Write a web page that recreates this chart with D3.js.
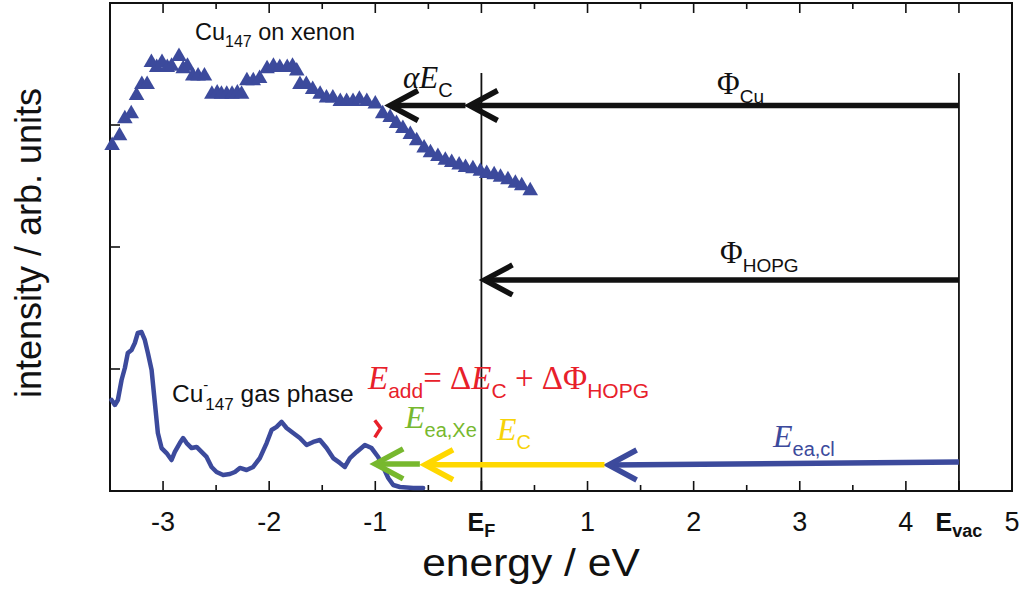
<!DOCTYPE html>
<html>
<head>
<meta charset="utf-8">
<script src="https://cdnjs.cloudflare.com/ajax/libs/d3/7.8.5/d3.min.js"></script>
<style>
  body { margin: 0; background: #fff; }
  svg { display: block; }
</style>
</head>
<body>
<div id="chart"></div>
<script>
// Cu147 on xenon (triangles)
const xenonE = [-3.48,-3.41,-3.36,-3.30,-3.25,-3.20,-3.15,-3.11,-3.06,-3.01,-2.96,-2.92,-2.85,-2.81,-2.77,-2.72,-2.67,-2.61,
  -2.54,-2.49,-2.45,-2.40,-2.35,-2.30,-2.26,-2.21,-2.15,-2.09,-2.02,-1.96,-1.90,-1.83,-1.78,-1.74,-1.71,-1.65,-1.59,-1.52,
  -1.46,-1.40,-1.33,-1.27,-1.21,-1.15,-1.08,-1.00,-0.93,-0.86,-0.80,-0.74,-0.67,-0.61,-0.54,-0.48,-0.41,-0.34,-0.28,-0.21,
  -0.15,-0.08,-0.01,0.05,0.12,0.18,0.25,0.32,0.38,0.46];
const xenonI = [2.84,2.92,3.06,3.10,3.25,3.34,3.34,3.52,3.48,3.52,3.48,3.49,3.57,3.47,3.49,3.41,3.41,3.41,
  3.26,3.27,3.26,3.26,3.26,3.27,3.26,3.37,3.37,3.39,3.47,3.49,3.48,3.48,3.49,3.45,3.34,3.34,3.30,3.26,
  3.23,3.23,3.20,3.20,3.20,3.22,3.20,3.18,3.10,3.07,3.02,2.98,2.93,2.88,2.82,2.78,2.75,2.72,2.70,2.68,
  2.66,2.65,2.63,2.61,2.60,2.58,2.56,2.53,2.51,2.47];

// Cu-147 gas phase (line)
const gasE = [-3.485,-3.454,-3.426,-3.391,-3.360,-3.332,-3.297,-3.266,-3.238,-3.203,-3.172,-3.143,-3.108,-3.077,-3.049,-3.014,
  -2.967,-2.920,-2.889,-2.842,-2.811,-2.778,-2.731,-2.684,-2.637,-2.590,-2.543,-2.496,-2.434,-2.370,-2.323,-2.276,-2.213,
  -2.151,-2.088,-2.024,-1.977,-1.930,-1.883,-1.836,-1.774,-1.711,-1.647,-1.585,-1.522,-1.459,-1.397,-1.334,-1.287,-1.239,
  -1.176,-1.098,-1.035,-0.973,-0.926,-0.878,-0.831,-0.768,-0.643,-0.549];
const gasI = [0.746,0.705,0.746,0.910,1.008,1.131,1.156,1.213,1.295,1.303,1.238,1.131,0.992,0.721,0.475,0.352,
  0.311,0.254,0.320,0.393,0.434,0.393,0.352,0.361,0.320,0.279,0.197,0.156,0.131,0.139,0.156,0.189,0.172,
  0.197,0.270,0.393,0.500,0.525,0.566,0.516,0.475,0.434,0.377,0.402,0.418,0.352,0.270,0.230,0.197,0.270,
  0.320,0.377,0.352,0.279,0.197,0.107,0.049,0.033,0.025,0.025];

// energy arrows: start, tip, level
const arrowNames = ["PhiCu", "alphaEc", "PhiHOPG", "Eeacl", "Ec", "EeaXe"];
const arrowFrom  = [4.5, -0.15, 4.5, 4.5, 1.16, -0.58];
const arrowTo    = [-0.13, -0.88, 0.01, 1.18, -0.55, -1.02];
const arrowLevelFrom = [3.16, 3.16, 1.73, 0.238, 0.215, 0.222];
const arrowLevelTo   = [3.16, 3.16, 1.73, 0.213, 0.215, 0.222];
const arrowColors = ["#111", "#111", "#111", "#3c4a9c", "#ffd800", "#77b82e"];

const tickValues = [-3, -2, -1, 0, 1, 2, 3, 4, 4.5, 5];
const tickLabels = ["-3", "-2", "-1", "E_F", "1", "2", "3", "4", "E_vac", "5"];
const minorTicks = [-2.5, -1.5, -0.5, 0.5, 1.5, 2.5, 3.5];
const yTicks = [1, 2, 3];
const levelLines = [0, 4.5]; // E_F and E_vac

const W = 1022, H = 589;
const blue = "#3c4a9c", red = "#e8202a", green = "#77b82e", yellow = "#f7d308";
const sans = "'Liberation Sans', Arial, sans-serif";
const serif = "'Liberation Serif', 'Times New Roman', serif";

const svg = d3.select("#chart").append("svg").attr("width", W).attr("height", H);

const x = d3.scaleLinear().domain([-3.5, 5]).range([110, 1012]);
const y = d3.scaleLinear().domain([0, 4]).range([491, 3]);

// ticks (inside)
const tk = svg.append("g").attr("stroke", "#111").attr("stroke-width", 1.6);
tickValues.forEach(v => {
  tk.append("line").attr("x1", x(v)).attr("x2", x(v)).attr("y1", y(0)).attr("y2", y(0) - 10);
  tk.append("line").attr("x1", x(v)).attr("x2", x(v)).attr("y1", y(4)).attr("y2", y(4) + 10);
});
minorTicks.forEach(v => {
  tk.append("line").attr("x1", x(v)).attr("x2", x(v)).attr("y1", y(0)).attr("y2", y(0) - 6);
  tk.append("line").attr("x1", x(v)).attr("x2", x(v)).attr("y1", y(4)).attr("y2", y(4) + 6);
});
yTicks.forEach(v => {
  tk.append("line").attr("x1", x(-3.5)).attr("x2", x(-3.5) + 10).attr("y1", y(v)).attr("y2", y(v));
});

// E_F and E_vac vertical lines
levelLines.forEach(v => {
  svg.append("line").attr("x1", x(v)).attr("x2", x(v)).attr("y1", 73).attr("y2", y(0))
    .attr("stroke", "#111").attr("stroke-width", 1.8);
});

// frame
svg.append("rect").attr("x", x(-3.5)).attr("y", y(4))
  .attr("width", x(5) - x(-3.5)).attr("height", y(0) - y(4))
  .attr("fill", "none").attr("stroke", "#111").attr("stroke-width", 2);

// gas phase curve
svg.append("path")
  .datum(gasE.map((e, i) => [e, gasI[i]]))
  .attr("d", d3.line().x(d => x(d[0])).y(d => y(d[1])))
  .attr("fill", "none").attr("stroke", blue).attr("stroke-width", 4.5)
  .attr("stroke-linejoin", "round").attr("stroke-linecap", "round");

// xenon triangles
svg.append("g").selectAll("path")
  .data(xenonE.map((e, i) => [e, xenonI[i]]))
  .enter().append("path")
  .attr("transform", d => "translate(" + x(d[0]) + "," + (y(d[1]) + 1) + ")")
  .attr("d", d3.symbol().type(d3.symbolTriangle).size(105))
  .attr("fill", blue);

// arrows
arrowNames.forEach((n, i) => {
  const x0 = x(arrowFrom[i]), x1 = x(arrowTo[i]);
  const y0 = y(arrowLevelFrom[i]), y1 = y(arrowLevelTo[i]);
  const g = svg.append("g").attr("stroke", arrowColors[i]).attr("fill", "none")
    .attr("stroke-width", 5.5);
  g.append("line").attr("x1", x0).attr("y1", y0).attr("x2", x1 + 3).attr("y2", y1);
  g.append("path")
    .attr("d", "M" + (x1 + 30) + "," + (y1 - 15) + "L" + (x1 + 2) + "," + y1 + "L" + (x1 + 30) + "," + (y1 + 15))
    .attr("stroke-linejoin", "miter").attr("stroke-miterlimit", 10);
});

// small red E_add arrow
svg.append("path")
  .attr("d", "M" + x(-1.005) + "," + y(0.58) + "L" + x(-0.95) + "," + y(0.515) + "L" + x(-1.005) + "," + y(0.44))
  .attr("fill", "none").attr("stroke", red).attr("stroke-width", 3.5);

// text helper: parts = [text, style] where style: "i" italic serif, "r" serif, "s" sans, "sub" sans subscript
function label(px, py, parts, size, color, anchor) {
  const t = svg.append("text").attr("x", px).attr("y", py).attr("fill", color)
    .attr("font-size", size).attr("text-anchor", anchor || "start");
  let down = 0;
  parts.forEach(p => {
    const sp = t.append("tspan").text(p[0]);
    const target = p[1] === "sub" ? size * 0.28 : 0;
    if (target !== down) { sp.attr("dy", target - down); down = target; }
    if (p[1] === "i") sp.attr("font-family", serif).attr("font-style", "italic");
    else if (p[1] === "r") sp.attr("font-family", serif);
    else if (p[1] === "sub") sp.attr("font-family", sans).attr("font-size", size * 0.68);
    else sp.attr("font-family", sans);
    if (p[2]) sp.attr("font-weight", p[2]);
    if (p[3]) sp.attr("font-size", p[3]);
  });
  return t;
}

// curve labels
label(195, 40, [["Cu", "s"], ["147", "sub", null, 16], [" on xenon", "s"]], 23.5, "#111");
const gl = svg.append("text").attr("x", 172).attr("y", 402).attr("fill", "#111")
  .attr("font-family", sans).attr("font-size", 24.5);
gl.append("tspan").text("Cu");
gl.append("tspan").text("-").attr("font-size", 15).attr("dy", -12);
gl.append("tspan").text("147").attr("font-size", 17).attr("dx", -3).attr("dy", 20);
gl.append("tspan").text(" gas phase").attr("dy", -8);

// arrow labels
label(403, 88, [["α", "i"], ["E", "i"], ["C", "sub", null, 20]], 31, "#111");
label(717, 94, [["Φ", "r"], ["Cu", "sub", null, 19]], 31, "#111");
label(720, 263, [["Φ", "r"], ["HOPG", "sub", null, 19]], 31, "#111");
label(368, 389, [["E", "i"], ["add", "sub", null, 21], ["= Δ", "r"], ["E", "i"], ["C", "sub", null, 21], [" + ΔΦ", "r"], ["HOPG", "sub", null, 21]], 33, red);
label(405, 428, [["E", "i"], ["ea,Xe", "sub", null, 20]], 32, green);
label(497, 440, [["E", "i"], ["C", "sub", null, 20]], 32, yellow);
label(773, 447, [["E", "i"], ["ea,cl", "sub", null, 20]], 32, blue);

// tick labels
tickValues.forEach((v, i) => {
  const s = tickLabels[i];
  if (s.indexOf("_") > 0) {
    const [a, b] = s.split("_");
    const t = svg.append("text").attr("x", x(v)).attr("y", 531).attr("text-anchor", "middle")
      .attr("font-family", sans).attr("font-size", 25).attr("font-weight", "bold").attr("fill", "#111");
    t.append("tspan").text(a);
    t.append("tspan").text(b).attr("font-size", 18).attr("dy", 6);
  } else {
    svg.append("text").attr("x", x(v)).attr("y", 531).attr("text-anchor", "middle")
      .attr("font-family", sans).attr("font-size", 27).attr("fill", "#111").text(s);
  }
});

// axis titles (x title slightly stretched, as in the original)
svg.append("text").attr("transform", "translate(531,576) scale(1.12,1)").attr("text-anchor", "middle")
  .attr("font-family", sans).attr("font-size", 38).attr("fill", "#111").text("energy / eV");
svg.append("text").attr("transform", "translate(41,243) rotate(-90)").attr("text-anchor", "middle")
  .attr("font-family", sans).attr("font-size", 36).attr("fill", "#111").text("intensity / arb. units");
</script>
</body>
</html>
